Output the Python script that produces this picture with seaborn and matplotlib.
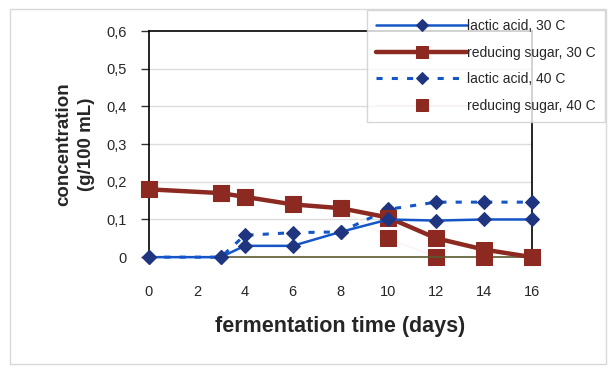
import pandas as pd
import matplotlib
matplotlib.use("Agg")
import matplotlib.pyplot as plt
from matplotlib.patches import Rectangle
from matplotlib.ticker import FuncFormatter
import seaborn as sns

# fermentation data
days = [0, 3, 4, 6, 8, 10, 12, 14, 16]
lactic_30 = [0, 0, 0.03, 0.03, 0.067, 0.10, 0.097, 0.10, 0.10]
sugar_30 = [0.18, 0.17, 0.16, 0.14, 0.13, 0.105, 0.05, 0.02, 0]
lactic_40 = [0, 0, 0.058, 0.065, 0.067, 0.127, 0.146, 0.146, 0.146]
sugar_40 = [0.18, 0.17, 0.16, 0.14, 0.13, 0.05, 0, 0, 0]

series_names = ["lactic acid, 30 C", "reducing sugar, 30 C",
                "lactic acid, 40 C", "reducing sugar, 40 C"]
x_ticks = [0, 2, 4, 6, 8, 10, 12, 14, 16]
y_ticks = [0, 0.1, 0.2, 0.3, 0.4, 0.5, 0.6]

navy = "#1f3580"
blue = "#1456c8"
red = "#8c2a22"

sns.set_style("white")
plt.rcParams["font.family"] = ["Liberation Sans", "DejaVu Sans"]

fig = plt.figure(figsize=(6.13, 3.70), dpi=100)
ax = fig.add_axes([0.243, 0.305, 0.625, 0.611])

# outer frame of the chart area
fig.patches.append(Rectangle((0.016, 0.015), 0.972, 0.96, transform=fig.transFigure,
                             fill=False, edgecolor="#d8d8d8", linewidth=1))

for v in y_ticks[1:-1]:
    ax.axhline(v, color="#dcdcdc", linewidth=1, zorder=0)

sns.lineplot(x=days, y=lactic_40, ax=ax, color=blue, linewidth=2.2, dashes=(2, 3),
             marker="D", markersize=7.5, markerfacecolor=navy, markeredgecolor=navy,
             label=series_names[2], clip_on=False, zorder=3)
sns.lineplot(x=days, y=sugar_30, ax=ax, color=red, linewidth=3.2,
             marker="s", markersize=11, markerfacecolor=red, markeredgecolor=red,
             label=series_names[1], clip_on=False, zorder=4)
sns.lineplot(x=days, y=lactic_30, ax=ax, color=blue, linewidth=1.8,
             marker="D", markersize=7.5, markerfacecolor=navy, markeredgecolor=navy,
             label=series_names[0], clip_on=False, zorder=5)
sns.lineplot(x=days, y=sugar_40, ax=ax, color="#fbf0f0", linewidth=0.8,
             marker="s", markersize=11, markerfacecolor=red, markeredgecolor=red,
             label=series_names[3], clip_on=False, zorder=2)

ax.set_xlim(0, 16)
ax.set_ylim(0, 0.6)
ax.set_xticks(x_ticks)
ax.set_yticks(y_ticks)
ax.yaxis.set_major_formatter(FuncFormatter(lambda v, p: "0" if v == 0 else f"{v:.1f}".replace(".", ",")))
ax.tick_params(axis="y", length=6, width=1, color="#333333", pad=10, labelsize=10.5, left=True)
ax.tick_params(axis="x", length=0, pad=20, labelsize=10.5)
for s in ax.spines.values():
    s.set_color("black")
    s.set_linewidth(1.2)
ax.spines["bottom"].set_color("#5a5a30")

ax.set_xlabel("fermentation time (days)", fontsize=15.5, fontweight="bold", labelpad=12)
ax.set_ylabel("concentration\n(g/100 mL)", fontsize=13.5, fontweight="bold", labelpad=8,
              linespacing=1.5)

handles, labels = ax.get_legend_handles_labels()
order = [labels.index(n) for n in series_names]
leg = ax.legend([handles[i] for i in order], [labels[i] for i in order],
                loc="upper right", bbox_to_anchor=(0.987, 0.973), bbox_transform=fig.transFigure,
                fontsize=10, handlelength=6.5, handletextpad=0.05, labelspacing=0.9,
                markerscale=0.8, frameon=True, fancybox=False, borderpad=0.65,
                borderaxespad=0)
leg.get_frame().set_edgecolor("#cccccc")
leg.get_frame().set_linewidth(1)
leg.set_zorder(10)

fig.savefig("out.png", dpi=100)
